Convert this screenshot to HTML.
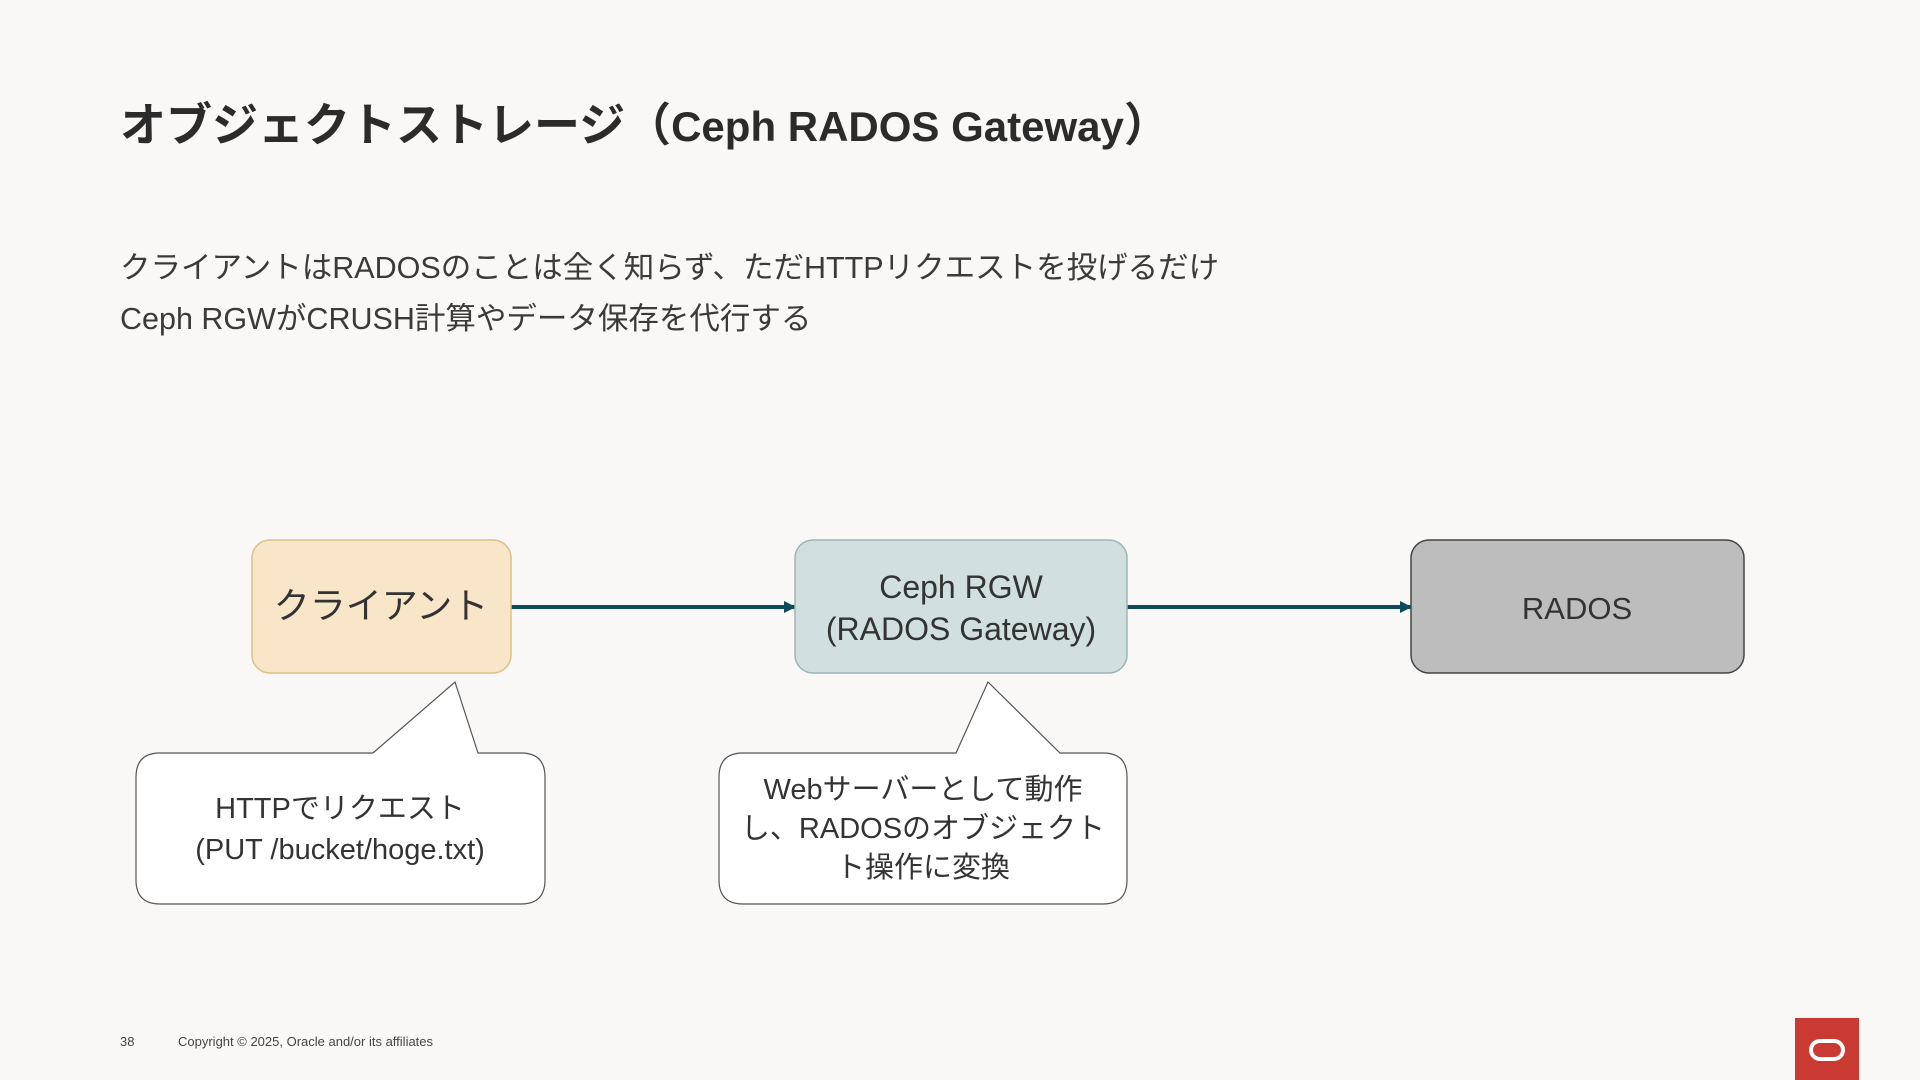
<!DOCTYPE html>
<html><head><meta charset="utf-8"><style>
html,body{margin:0;padding:0;background:#f9f8f6;}
svg{display:block;}
text{font-family:"Liberation Sans","Noto Sans CJK JP",sans-serif;}
</style></head><body>
<svg width="1920" height="1080" viewBox="0 0 1920 1080" xmlns="http://www.w3.org/2000/svg">
<rect width="1920" height="1080" fill="#f9f8f6"/>
<text x="120" y="141" font-size="46" font-weight="bold" fill="#2b2b2b">オブジェクトストレージ（<tspan font-size="42">Ceph RADOS Gateway</tspan>）</text>
<text x="120" y="278" font-size="30.5" fill="#3a3a3a">クライアントはRADOSのことは全く知らず、ただHTTPリクエストを投げるだけ</text>
<text x="120" y="329" font-size="30.5" fill="#3a3a3a">Ceph RGWがCRUSH計算やデータ保存を代行する</text>

<defs><marker id="ah" markerWidth="12" markerHeight="12" refX="11" refY="6" orient="auto" markerUnits="userSpaceOnUse"><path d="M0,0 L12,6 L0,12 z" fill="#0d4a5e"/></marker></defs>
<line x1="511" y1="607" x2="795" y2="607" stroke="#0d4a5e" stroke-width="4" marker-end="url(#ah)"/>
<line x1="1127" y1="607" x2="1411" y2="607" stroke="#0d4a5e" stroke-width="4" marker-end="url(#ah)"/>

<rect x="252" y="540" width="259" height="133" rx="18" fill="#f9e6c8" stroke="#dcc089" stroke-width="1.5"/>
<text x="381" y="618" font-size="36" fill="#333" text-anchor="middle">クライアント</text>
<rect x="795" y="540" width="332" height="133" rx="18" fill="#d1dfdf" stroke="#9fb3b5" stroke-width="1.5"/>
<text x="961" y="598" font-size="32" fill="#333" text-anchor="middle">Ceph RGW</text>
<text x="961" y="640" font-size="32" fill="#333" text-anchor="middle">(RADOS Gateway)</text>
<rect x="1411" y="540" width="333" height="133" rx="18" fill="#bdbdbd" stroke="#444" stroke-width="1.5"/>
<text x="1577" y="619" font-size="31" fill="#333" text-anchor="middle">RADOS</text>

<path d="M160,753 H373 L455,682 L478,753 H521 Q545,753 545,777 V880 Q545,904 521,904 H160 Q136,904 136,880 V777 Q136,753 160,753 Z" fill="#fff" stroke="#555" stroke-width="1.2"/>
<text x="340" y="818" font-size="29" fill="#333" text-anchor="middle">HTTPでリクエスト</text>
<text x="340" y="859" font-size="29" fill="#333" text-anchor="middle">(PUT /bucket/hoge.txt)</text>

<path d="M743,753 H956 L988,682 L1060,753 H1103 Q1127,753 1127,777 V880 Q1127,904 1103,904 H743 Q719,904 719,880 V777 Q719,753 743,753 Z" fill="#fff" stroke="#555" stroke-width="1.2"/>
<text x="923" y="799" font-size="29" fill="#333" text-anchor="middle">Webサーバーとして動作</text>
<text x="923" y="838" font-size="29" fill="#333" text-anchor="middle">し、RADOSのオブジェクト</text>
<text x="923" y="877" font-size="29" fill="#333" text-anchor="middle">ト操作に変換</text>

<text x="120" y="1046" font-size="13" fill="#444">38</text>
<text x="178" y="1046" font-size="13" fill="#444">Copyright © 2025, Oracle and/or its affiliates</text>
<rect x="1795" y="1018" width="64" height="62" fill="#c93b32"/>
<rect x="1811" y="1041" width="32" height="18" rx="9" fill="none" stroke="#fff" stroke-width="4"/>
</svg>
</body></html>
